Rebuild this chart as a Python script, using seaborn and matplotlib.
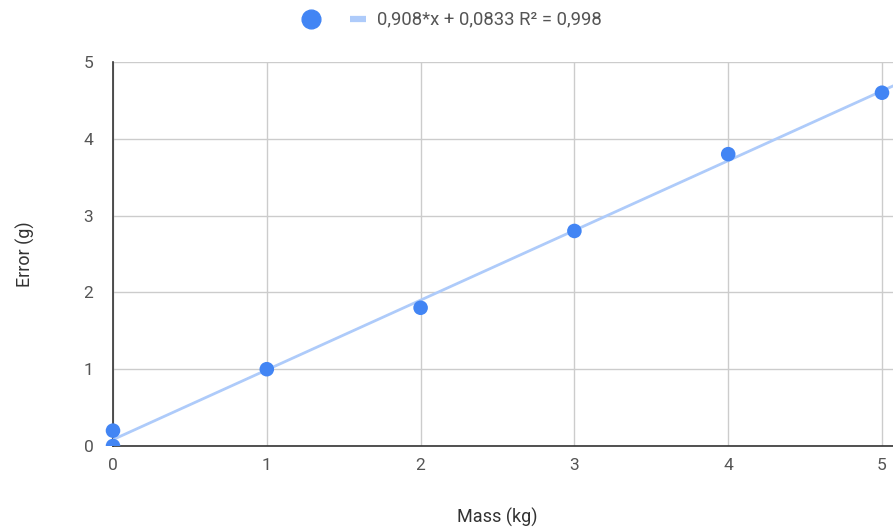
import numpy as np
import pandas as pd
import matplotlib
matplotlib.use("Agg")
import matplotlib.pyplot as plt
import seaborn as sns
from matplotlib.patches import Rectangle
from matplotlib.lines import Line2D

# data
mass = [0, 0, 1, 2, 3, 4, 5]
error = [0, 0.2, 1, 1.8, 2.8, 3.8, 4.6]
slope = 0.908
intercept = 0.0833
trend_label = "0,908*x + 0,0833 R² = 0,998"
x_ticks = [0, 1, 2, 3, 4, 5]
y_ticks = [0, 1, 2, 3, 4, 5]

df = pd.DataFrame({"mass": mass, "error": error})

sns.set_style("white")
plt.rcParams["font.family"] = ["Roboto", "DejaVu Sans"]

W, H = 893, 531
fig = plt.figure(figsize=(W / 100, H / 100), dpi=100)
ax = fig.add_axes([113 / W, 1 - 446 / H, 780 / W, 384 / H])

point_color = "#4285f4"
line_color = "#aecbfa"
grid_color = "#cccccc"

# trendline
xs = np.array([0, 5.08])
trend = pd.DataFrame({"mass": xs, "error": slope * xs + intercept})
sns.lineplot(data=trend, x="mass", y="error", color=line_color, linewidth=2.0,
             ax=ax, zorder=3)

sns.scatterplot(data=df, x="mass", y="error", color=point_color, s=110,
                edgecolor="none", ax=ax, zorder=4)
# only clip at the bottom, like the original
clip = Rectangle((-0.2, 0), 1.4, 1.3, transform=ax.transAxes)
for coll in ax.collections:
    coll.set_clip_path(clip)

ax.set_xlim(0, 780 / 153.8)
ax.set_ylim(0, 5)
ax.set_xticks(x_ticks)
ax.set_yticks(y_ticks)
ax.grid(True, color=grid_color, linewidth=1)
ax.set_axisbelow(True)
for s in ["top", "right"]:
    ax.spines[s].set_visible(False)
for s in ["left", "bottom"]:
    ax.spines[s].set_color("#333333")
    ax.spines[s].set_linewidth(1.2)
    ax.spines[s].set_zorder(2.5)
ax.tick_params(axis="y", length=7.2, width=1, color=grid_color, labelsize=12.5,
               labelcolor="#555555", pad=7)
ax.tick_params(axis="x", length=0, labelsize=12.5, labelcolor="#555555", pad=9)

ax.set_xlabel("Mass (kg)", fontsize=13, color="#333333")
# label coords give the top of the text
ax.xaxis.set_label_coords((497 - 113) / 780, -(508 - 446) / 384)
ax.set_ylabel("Error (g)", fontsize=13, color="#333333", labelpad=35)

# legend drawn at the top centre
fig.add_artist(Line2D([311 / W], [1 - 19 / H], marker="o", linestyle="none",
                      color=point_color, markersize=13.5, transform=fig.transFigure))
fig.add_artist(Line2D([350 / W, 366 / W], [1 - 19 / H, 1 - 19 / H], color=line_color,
                      linewidth=4.5, solid_capstyle="butt", transform=fig.transFigure))
fig.text(377 / W, 1 - 19 / H, trend_label, fontsize=13.3, color="#555555",
         ha="left", va="center")

fig.savefig("out.png", dpi=100)
